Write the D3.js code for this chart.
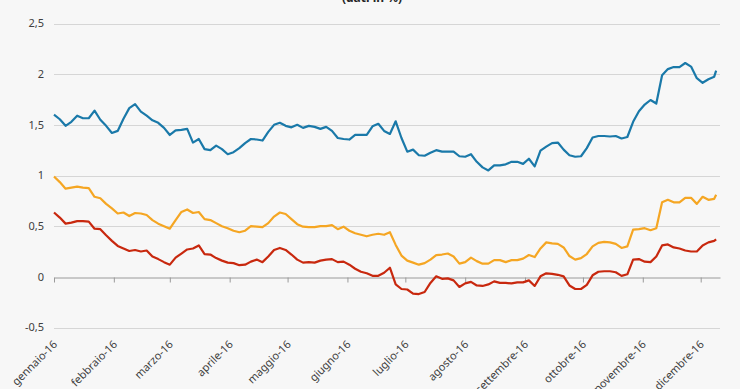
<!DOCTYPE html>
<html>
<head>
<meta charset="utf-8">
<script src="https://cdn.jsdelivr.net/npm/d3@7"></script>
<style>
  html, body { margin: 0; padding: 0; background: #f7f7f7; }
  svg { display: block; }
</style>
</head>
<body>
<svg id="chart" width="740" height="389"></svg>
<script>
// ---- DATA ----
const title = "(dati in %)";

const dates = [
  "2016-01-01","2016-01-04","2016-01-07","2016-01-10","2016-01-13","2016-01-16","2016-01-19","2016-01-22","2016-01-25","2016-01-28",
  "2016-01-31","2016-02-03","2016-02-06","2016-02-09","2016-02-12","2016-02-15","2016-02-18","2016-02-21","2016-02-24","2016-02-27",
  "2016-03-01","2016-03-04","2016-03-07","2016-03-10","2016-03-13","2016-03-16","2016-03-19","2016-03-22","2016-03-25","2016-03-28",
  "2016-03-31","2016-04-03","2016-04-06","2016-04-09","2016-04-12","2016-04-15","2016-04-18","2016-04-21","2016-04-24","2016-04-27",
  "2016-04-30","2016-05-03","2016-05-06","2016-05-09","2016-05-12","2016-05-15","2016-05-18","2016-05-21","2016-05-24","2016-05-27",
  "2016-05-30","2016-06-02","2016-06-05","2016-06-08","2016-06-11","2016-06-14","2016-06-17","2016-06-20","2016-06-23","2016-06-26",
  "2016-06-29","2016-07-02","2016-07-05","2016-07-08","2016-07-11","2016-07-14","2016-07-17","2016-07-20","2016-07-23","2016-07-26",
  "2016-07-29","2016-08-01","2016-08-04","2016-08-07","2016-08-10","2016-08-13","2016-08-16","2016-08-19","2016-08-22","2016-08-25",
  "2016-08-28","2016-08-31","2016-09-03","2016-09-06","2016-09-09","2016-09-12","2016-09-15","2016-09-18","2016-09-21","2016-09-24",
  "2016-09-27","2016-09-30","2016-10-03","2016-10-06","2016-10-09","2016-10-12","2016-10-15","2016-10-18","2016-10-21","2016-10-24",
  "2016-10-27","2016-10-30","2016-11-02","2016-11-05","2016-11-08","2016-11-11","2016-11-14","2016-11-17","2016-11-20","2016-11-23",
  "2016-11-26","2016-11-29","2016-12-02","2016-12-05","2016-12-08","2016-12-09"
];

const blueValues = [
  1.60,1.555,1.49,1.53,1.59,1.565,1.565,1.64,1.55,1.49,
  1.42,1.44,1.56,1.665,1.705,1.63,1.59,1.545,1.52,1.47,
  1.40,1.445,1.45,1.46,1.325,1.36,1.26,1.25,1.295,1.26,
  1.21,1.23,1.27,1.32,1.36,1.355,1.345,1.43,1.50,1.52,
  1.49,1.475,1.50,1.47,1.49,1.48,1.46,1.48,1.44,1.37,
  1.36,1.355,1.40,1.40,1.40,1.485,1.51,1.44,1.41,1.535,
  1.37,1.235,1.255,1.20,1.195,1.225,1.25,1.235,1.235,1.235,
  1.19,1.185,1.21,1.135,1.08,1.05,1.10,1.10,1.11,1.135,
  1.135,1.115,1.165,1.09,1.245,1.285,1.32,1.325,1.255,1.20,
  1.185,1.19,1.27,1.375,1.39,1.39,1.385,1.39,1.365,1.38,
  1.53,1.635,1.70,1.745,1.71,1.99,2.05,2.07,2.07,2.11,
  2.075,1.96,1.915,1.95,1.975,2.035
];

const orangeValues = [
  0.99,0.935,0.87,0.88,0.89,0.88,0.875,0.79,0.775,0.72,
  0.675,0.625,0.635,0.60,0.63,0.625,0.61,0.56,0.525,0.50,
  0.475,0.56,0.64,0.665,0.63,0.64,0.57,0.56,0.53,0.50,
  0.48,0.455,0.44,0.455,0.50,0.495,0.49,0.53,0.595,0.635,
  0.62,0.57,0.52,0.495,0.49,0.49,0.50,0.50,0.51,0.47,
  0.495,0.455,0.43,0.415,0.40,0.415,0.425,0.415,0.44,0.315,
  0.21,0.16,0.14,0.12,0.135,0.17,0.215,0.22,0.23,0.20,
  0.13,0.145,0.19,0.155,0.13,0.13,0.165,0.165,0.145,0.165,
  0.165,0.18,0.215,0.195,0.28,0.34,0.33,0.325,0.29,0.205,
  0.17,0.185,0.225,0.30,0.335,0.345,0.34,0.325,0.285,0.30,
  0.465,0.47,0.48,0.46,0.48,0.735,0.76,0.735,0.735,0.78,
  0.78,0.72,0.79,0.76,0.77,0.81
];

const redValues = [
  0.635,0.585,0.525,0.535,0.55,0.55,0.545,0.475,0.47,0.41,
  0.355,0.305,0.28,0.255,0.265,0.25,0.26,0.20,0.175,0.145,
  0.12,0.19,0.23,0.27,0.28,0.31,0.225,0.22,0.185,0.16,
  0.14,0.135,0.115,0.12,0.15,0.17,0.145,0.20,0.265,0.285,
  0.265,0.22,0.17,0.14,0.145,0.14,0.16,0.17,0.175,0.145,
  0.15,0.12,0.08,0.05,0.035,0.01,0.01,0.04,0.09,-0.075,
  -0.12,-0.125,-0.165,-0.17,-0.15,-0.06,0.005,-0.02,-0.015,-0.035,
  -0.10,-0.065,-0.05,-0.085,-0.09,-0.075,-0.045,-0.06,-0.06,-0.065,
  -0.055,-0.055,-0.035,-0.09,0.005,0.035,0.03,0.02,0.005,-0.085,
  -0.12,-0.12,-0.08,0.015,0.05,0.055,0.055,0.045,0.01,0.025,
  0.17,0.175,0.15,0.145,0.20,0.31,0.32,0.29,0.28,0.26,
  0.25,0.25,0.31,0.34,0.355,0.37
];

const yTicks = [-0.5, 0, 0.5, 1, 1.5, 2, 2.5];
const yTickLabels = ["-0,5", "0", "0,5", "1", "1,5", "2", "2,5"];
const monthTickLabels = ["gennaio-16","febbraio-16","marzo-16","aprile-16","maggio-16","giugno-16",
  "luglio-16","agosto-16","settembre-16","ottobre-16","novembre-16","dicembre-16"];
const xDomain = ["2016-01-01", "2016-12-11"];

// ---- CHART ----
(function () {
const parse = d3.utcParse("%Y-%m-%d");
const svg = d3.select("#chart");
const W = 740, H = 389;
const plotLeft = 54, plotRight = 720, plotTop = 23.5, plotBottom = 327.5;

const x = d3.scaleUtc().domain(xDomain.map(parse)).range([plotLeft, plotRight]);
const y = d3.scaleLinear().domain([-0.5, 2.5]).range([plotBottom, plotTop]);

const font = "'Noto Sans', 'Open Sans', 'DejaVu Sans', sans-serif";

svg.append("rect").attr("width", W).attr("height", H).attr("fill", "#f7f7f7");

// title (cut off at the top)
svg.append("text")
  .attr("x", 372).attr("y", 2)
  .attr("text-anchor", "middle")
  .attr("font-family", font).attr("font-size", 12).attr("font-weight", "bold")
  .attr("fill", "#262626")
  .text(title);

// gridlines
svg.append("g").selectAll("line")
  .data(yTicks.filter(v => v !== 0))
  .join("line")
  .attr("x1", plotLeft).attr("x2", plotRight)
  .attr("y1", d => Math.round(y(d)) + 0.5).attr("y2", d => Math.round(y(d)) + 0.5)
  .attr("stroke", "#d6d6d6").attr("stroke-width", 1);

// y labels
svg.append("g").selectAll("text")
  .data(yTicks)
  .join("text")
  .attr("x", 44).attr("y", d => y(d))
  .attr("dy", "0.35em")
  .attr("text-anchor", "end")
  .attr("font-family", font).attr("font-size", 11)
  .attr("fill", "#404040")
  .text((d, i) => yTickLabels[i]);

// zero axis with ticks
const zeroY = Math.round(y(0)) + 0.5;
const xAxis = d3.axisBottom(x)
  .ticks(d3.utcMonth.every(1))
  .tickSize(5)
  .tickSizeOuter(0)
  .tickFormat("");
const gx = svg.append("g").attr("transform", `translate(0,${zeroY})`).call(xAxis);
gx.select(".domain").attr("stroke", "#9a9a9a");
gx.selectAll(".tick line").attr("stroke", "#9a9a9a");

// month labels at the bottom, rotated
const monthTicks = x.ticks(d3.utcMonth.every(1));
svg.append("g").selectAll("text")
  .data(monthTicks)
  .join("text")
  .attr("transform", d => `translate(${x(d) + 4},${345}) rotate(-45)`)
  .attr("text-anchor", "end")
  .attr("font-family", font).attr("font-size", 11)
  .attr("fill", "#404040")
  .text((d, i) => monthTickLabels[i]);

// lines
const series = [
  { values: orangeValues, color: "#f5a623" },
  { values: redValues, color: "#c8280e" },
  { values: blueValues, color: "#1a79a9" }
];
const line = d3.line()
  .x((d, i) => x(parse(dates[i])))
  .y(d => y(d));

svg.append("g").selectAll("path")
  .data(series)
  .join("path")
  .attr("d", s => line(s.values))
  .attr("fill", "none")
  .attr("stroke", s => s.color)
  .attr("stroke-width", 2.2)
  .attr("stroke-linejoin", "round");
})();
</script>
</body>
</html>
